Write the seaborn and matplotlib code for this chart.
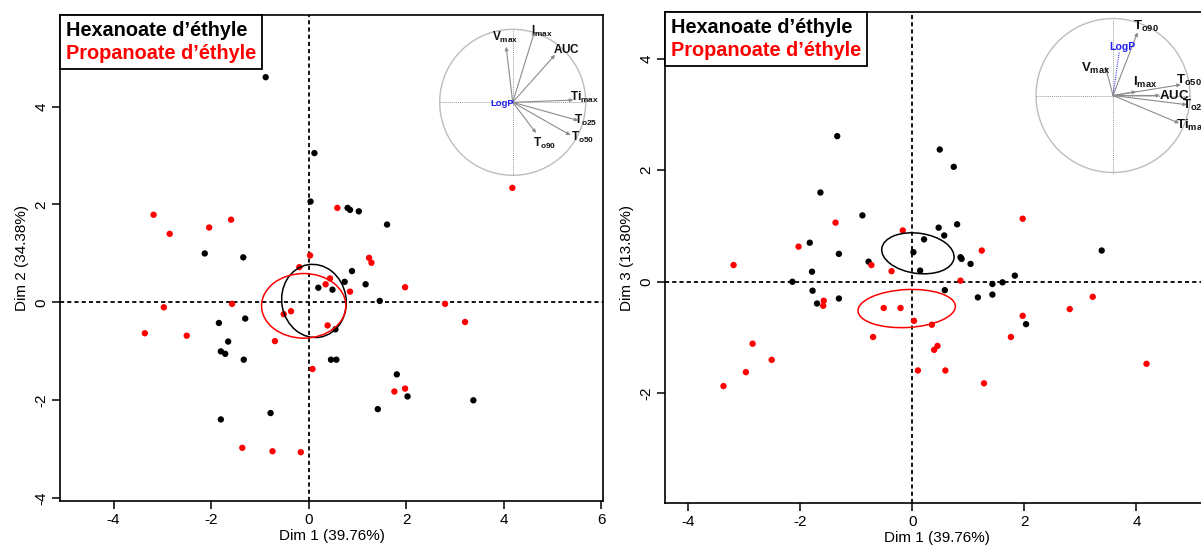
import numpy as np
import pandas as pd
import matplotlib
matplotlib.use("Agg")
import matplotlib.pyplot as plt
import seaborn as sns
from matplotlib.patches import Ellipse
from matplotlib.lines import Line2D

# ---------------- data ----------------
groups = ["Hexanoate d’éthyle", "Propanoate d’éthyle"]
group_colors = ["black", "red"]

# Panel 1: Dim 1 vs Dim 2
hexa_p1_dim1 = [-0.88, 0.12, 0.04, 0.80, 0.85, 1.03, 1.61, -2.13, -1.34, 0.89,
                0.74, 1.17, 0.20, 0.49, 1.46, 0.55, -1.84, -1.30, -1.65, -1.80,
                -1.71, -1.33, 0.46, 0.57, 1.81, 2.03, 3.38, 1.42, -1.80, -0.78]
hexa_p1_dim2 = [4.60, 3.05, 2.06, 1.93, 1.89, 1.86, 1.59, 1.00, 0.92, 0.64,
                0.42, 0.37, 0.30, 0.26, 0.03, -0.55, -0.42, -0.33, -0.80, -1.00,
                -1.05, -1.17, -1.17, -1.17, -1.47, -1.92, -2.00, -2.18, -2.39, -2.26]
prop_p1_dim1 = [4.18, -3.18, -2.85, -2.04, -1.59, 0.59, 0.03, 1.24, 1.29, -0.19,
                0.44, 0.35, 0.85, 1.98, -2.97, -1.57, 2.80, 3.21, -3.36, -2.50,
                -0.51, -0.36, 0.39, -0.69, 0.08, 1.76, 1.98, -1.36, -0.74, -0.16]
prop_p1_dim2 = [2.34, 1.79, 1.40, 1.53, 1.69, 1.93, 0.96, 0.91, 0.81, 0.72,
                0.49, 0.37, 0.22, 0.31, -0.10, -0.03, -0.03, -0.40, -0.63, -0.68,
                -0.24, -0.18, -0.47, -0.79, -1.36, -1.82, -1.76, -2.97, -3.04, -3.06]

# Panel 2: Dim 1 vs Dim 3
hexa_p2_dim1 = [-1.34, 0.49, 0.74, -1.64, -0.89, 0.80, 0.47, 0.57, 0.21, -1.83,
                3.38, 0.02, -1.31, -0.78, 0.88, 0.86, 1.04, -1.79, 0.14, 1.83,
                -2.14, 1.43, 1.61, -1.78, 0.58, -1.70, -1.31, 1.17, 1.43, 2.03]
hexa_p2_dim3 = [2.61, 2.37, 2.06, 1.60, 1.19, 1.03, 0.97, 0.83, 0.76, 0.70,
                0.56, 0.53, 0.50, 0.36, 0.41, 0.44, 0.32, 0.18, 0.20, 0.11,
                0.00, -0.04, -0.01, -0.16, -0.15, -0.39, -0.30, -0.28, -0.23, -0.76]
prop_p2_dim1 = [-1.37, 1.97, -0.17, -2.03, 1.24, -3.19, -0.73, -0.37, 0.86, -1.58,
                -1.59, -0.51, -0.21, 0.03, 0.35, -0.70, 1.97, 1.76, 2.81, 3.22,
                -2.85, -2.51, -2.97, -3.37, 0.45, 0.39, 0.10, 0.59, 1.28, 4.18]
prop_p2_dim3 = [1.06, 1.13, 0.92, 0.63, 0.56, 0.30, 0.30, 0.19, 0.02, -0.34,
                -0.43, -0.47, -0.47, -0.70, -0.77, -0.99, -0.61, -0.99, -0.49, -0.27,
                -1.11, -1.40, -1.62, -1.87, -1.15, -1.22, -1.59, -1.59, -1.82, -1.47]

# confidence ellipses: centre x, centre y, semi-axis x, semi-axis y, angle (deg)
ell_p1_cx = [0.11, -0.10]
ell_p1_cy = [0.03, -0.07]
ell_p1_ax = [0.66, 0.865]
ell_p1_ay = [0.75, 0.66]
ell_p1_ang = [10, 0]
ell_p2_cx = [0.10, -0.10]
ell_p2_cy = [0.51, -0.48]
ell_p2_ax = [0.65, 0.87]
ell_p2_ay = [0.36, 0.34]
ell_p2_ang = [-8, 3]

axis_labels_p1 = ["Dim 1 (39.76%)", "Dim 2 (34.38%)"]
axis_labels_p2 = ["Dim 1 (39.76%)", "Dim 3 (13.80%)"]
xticks_p1 = [-4, -2, 0, 2, 4, 6]
yticks_p1 = [-4, -2, 0, 2, 4]
xticks_p2 = [-4, -2, 0, 2, 4, 6]
yticks_p2 = [-4, -2, 0, 2, 4]

# variable correlation circles
var_names = ["Vmax", "Imax", "AUC", "Timax", "To25", "To50", "To90", "LogP"]
var_tex = [r"$\mathbf{V_{max}}$", r"$\mathbf{I_{max}}$", r"$\mathbf{AUC}$",
           r"$\mathbf{Ti_{max}}$", r"$\mathbf{T_{o25}}$", r"$\mathbf{T_{o50}}$",
           r"$\mathbf{T_{o90}}$", "LogP"]
load_p1_x = [-0.09, 0.30, 0.58, 0.83, 0.90, 0.79, 0.32, -0.02]
load_p1_y = [0.76, 0.97, 0.65, 0.03, -0.25, -0.45, -0.42, 0.01]
load_p2_x = [-0.10, 0.30, 0.61, 0.86, 0.96, 0.88, 0.32, 0.08]
load_p2_y = [0.38, 0.05, 0.00, -0.36, -0.12, 0.14, 0.82, 0.56]

# label placement (style, not data)
lab_p1 = [(-0.10, 0.89), (0.40, 0.97), (0.74, 0.73), (0.98, 0.07), (1.00, -0.25),
          (0.96, -0.48), (0.44, -0.57), (-0.15, -0.02)]
lab_p2 = [(-0.22, 0.35), (0.42, 0.17), (0.80, 0.00), (1.03, -0.39), (1.07, -0.13),
          (0.99, 0.20), (0.43, 0.90), (0.12, 0.63)]

# ---------------- style ----------------
sns.set_style("white")
plt.rcParams['font.family'] = ['Liberation Sans', 'DejaVu Sans']
plt.rcParams['mathtext.fontset'] = 'custom'
plt.rcParams['mathtext.rm'] = 'Liberation Sans'
plt.rcParams['mathtext.bf'] = 'Liberation Sans:bold'
plt.rcParams['mathtext.it'] = 'Liberation Sans:italic'
plt.rcParams['text.color'] = 'black'
plt.rcParams['axes.labelcolor'] = 'black'
plt.rcParams['axes.unicode_minus'] = False

W, H = 1201, 554
fig = plt.figure(figsize=(W / 100, H / 100), dpi=100)


def px_axes(l, t, r, b):
    return fig.add_axes([l / W, 1 - b / H, (r - l) / W, (b - t) / H])


def make_df(hx, hy, px, py):
    return pd.DataFrame({
        "x": list(hx) + list(px),
        "y": list(hy) + list(py),
        "group": [groups[0]] * len(hx) + [groups[1]] * len(px),
    })


def main_panel(ax, df, xlim, ylim, xticks, yticks, labels, ecx, ecy, eax, eay, eang):
    pal = dict(zip(groups, group_colors))
    ax.axhline(0, color="black", lw=1.3, ls=(0, (2.3, 1.7)), zorder=1)
    ax.axvline(0, color="black", lw=1.3, ls=(0, (2.3, 1.7)), zorder=1)
    sns.scatterplot(data=df, x="x", y="y", hue="group", palette=pal, s=21,
                    linewidth=0, legend=False, ax=ax, zorder=3)
    for i in range(len(ecx)):
        e = Ellipse((ecx[i], ecy[i]), 2 * eax[i], 2 * eay[i], angle=eang[i],
                    fill=False, edgecolor=group_colors[i], lw=1.1, zorder=4)
        ax.add_patch(e)
    ax.set_xlim(*xlim)
    ax.set_ylim(*ylim)
    ax.set_xticks([t for t in xticks if xlim[0] <= t <= xlim[1] + 1])
    ax.set_yticks([t for t in yticks if ylim[0] <= t <= ylim[1]])
    ax.set_xlim(*xlim)
    ax.set_xlabel(labels[0], fontsize=11, labelpad=2)
    ax.set_ylabel(labels[1], fontsize=11, labelpad=4)
    ax.tick_params(axis="both", direction="out", length=5.5, width=1.1,
                   labelsize=11, colors="black", bottom=True, left=True, pad=3)
    ax.tick_params(axis="y", labelrotation=90)
    for lab in ax.get_yticklabels():
        lab.set_va("center")
    for s in ax.spines.values():
        s.set_color("black")
        s.set_linewidth(1.2)
    handles = [Line2D([], [], ls="none") for _ in groups]
    leg = ax.legend(handles, groups, loc="upper left", bbox_to_anchor=(0, 1),
                    borderaxespad=0, handlelength=0, handletextpad=0,
                    frameon=True, fancybox=False, edgecolor="black", framealpha=1,
                    prop={"weight": "bold", "size": 14.3}, labelcolor=group_colors,
                    borderpad=0.3, labelspacing=0.2)
    leg.get_frame().set_linewidth(1.3)
    leg.set_zorder(6)


def circle_panel(ax, lx, ly, labpos, fs, logp_dotted):
    ax.set_xlim(-1, 1)
    ax.set_ylim(-1, 1)
    ax.set_axis_off()
    th = np.linspace(0, 2 * np.pi, 300)
    ax.plot(np.cos(th), np.sin(th), color="#BDBDBD", lw=1.0, clip_on=False)
    ax.plot([-1, 1], [0, 0], color="#9A9A9A", lw=0.7, ls=(0, (1, 1)), clip_on=False)
    ax.plot([0, 0], [-1, 1], color="#9A9A9A", lw=0.7, ls=(0, (1, 1)), clip_on=False)
    for i, name in enumerate(var_names):
        if name == "LogP":
            col = "#3A3AF0"
            ls = (0, (1, 1)) if logp_dotted else "-"
            ax.plot([0, lx[i]], [0, ly[i]], color=col, lw=0.8, ls=ls, clip_on=False)
            ax.text(labpos[i][0], labpos[i][1], "LogP", color="#2222EE",
                    fontsize=fs * 0.8, fontweight="bold", ha="center", va="center",
                    clip_on=False)
        else:
            ax.annotate("", xy=(lx[i], ly[i]), xytext=(0, 0),
                        arrowprops=dict(arrowstyle="-|>", color="#8C8C8C", lw=0.8,
                                        mutation_scale=5, shrinkA=0, shrinkB=0),
                        annotation_clip=False)
            ax.text(labpos[i][0], labpos[i][1], var_tex[i], color="#111111",
                    fontsize=fs, ha="center", va="center", clip_on=False)


ax1 = px_axes(60, 15, 603, 500.7)
main_panel(ax1, make_df(hexa_p1_dim1, hexa_p1_dim2, prop_p1_dim1, prop_p1_dim2),
           (-5.10, 6.04), (-4.05, 5.87), xticks_p1, yticks_p1, axis_labels_p1,
           ell_p1_cx, ell_p1_cy, ell_p1_ax, ell_p1_ay, ell_p1_ang)

ax2 = px_axes(665.2, 12.3, 1208.7, 502.7)
main_panel(ax2, make_df(hexa_p2_dim1, hexa_p2_dim3, prop_p2_dim1, prop_p2_dim3),
           (-4.41, 5.29), (-3.96, 4.83), xticks_p2, yticks_p2, axis_labels_p2,
           ell_p2_cx, ell_p2_cy, ell_p2_ax, ell_p2_ay, ell_p2_ang)

c1 = px_axes(439.7, 29.3, 585.7, 175.3)
circle_panel(c1, load_p1_x, load_p1_y, lab_p1, 8.5, False)

c2 = px_axes(1036, 18.5, 1190, 172.5)
circle_panel(c2, load_p2_x, load_p2_y, lab_p2, 9.5, True)

fig.savefig("out.png", dpi=100)
